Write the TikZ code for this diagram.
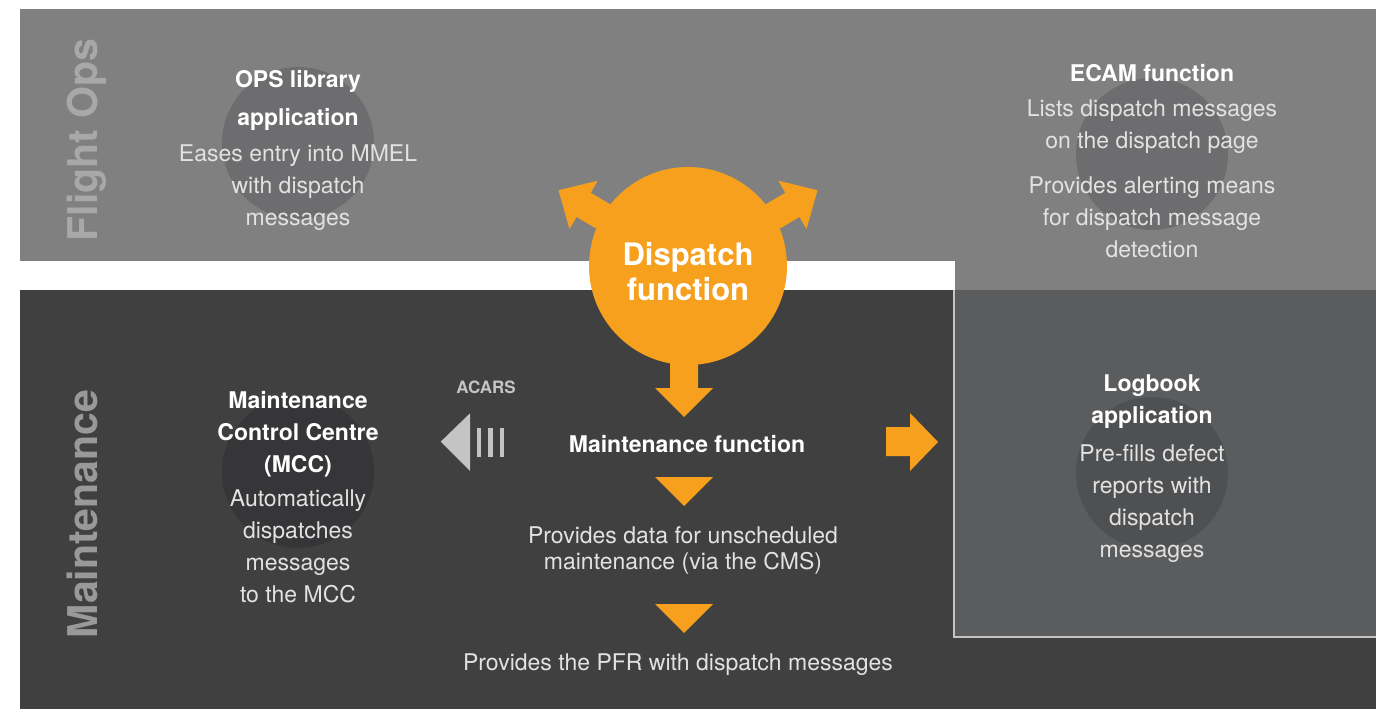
\documentclass[tikz,border=0pt]{standalone}
\usepackage{fontspec}
\setmainfont{TeX Gyre Heros}
\definecolor{topgray}{HTML}{808080}
\definecolor{darkgray}{HTML}{404040}
\definecolor{logbox}{HTML}{5B5C5E}
\definecolor{logborder}{HTML}{C4C4C4}
\definecolor{orange}{HTML}{F6A01E}
\definecolor{bodytxt}{HTML}{E2E2E2}
\definecolor{acars}{HTML}{C4C4C4}
\definecolor{sidelblA}{HTML}{A8A8A8}
\definecolor{sidelblB}{HTML}{999999}
\definecolor{circA}{HTML}{6D6D6F}
\definecolor{circB}{HTML}{363638}
\definecolor{circC}{HTML}{4F5052}
\begin{document}
\begin{tikzpicture}[x=1pt,y=-1pt,
  bodytext/.style={text=bodytxt, font=\fontsize{23}{32}\selectfont, align=center, inner sep=0pt},
  titletext/.style={text=white, font=\fontsize{23}{32}\selectfont\bfseries, align=center, inner sep=0pt},
  sidelabel/.style={rotate=90, anchor=base, font=\fontsize{41}{41}\selectfont\bfseries, inner sep=0pt},
  orangefill/.style={fill=orange, draw=none},
  faint/.style={draw=none}
]
\useasboundingbox (0,0) rectangle (1389,709);
\fill[white] (0,0) rectangle (1389,709);
% bands
\fill[topgray] (20,9) rectangle (1376,261);
\fill[topgray] (955,255) rectangle (1376,290);
\fill[darkgray] (20,290) rectangle (1376,709);
\fill[logbox] (955,290) rectangle (1376,637);
\draw[logborder, line width=2.5pt] (954.2,290) -- (954.2,637.2) -- (1376,637.2);
% faint circles
\fill[circA] (298,143) circle (76);
\fill[circA] (1152,154) circle (76);
\fill[circB] (298,472) circle (76);
\fill[circC] (1152,473) circle (76);
% side labels
\node[sidelabel, text=sidelblA] (flightops) at (97,140) {Flight Ops};
\node[sidelabel, text=sidelblB] (maint) at (97,514) {Maintenance};
% dispatch arrows
\fill[orangefill] (626.1,213.5) -- (590.7,192.8) -- (597.7,180.7) -- (558.5,190.2) -- (569.5,229.1) -- (576.5,217.0) -- (611.9,237.7) -- cycle;
\fill[orangefill] (749.9,213.5) -- (785.3,192.8) -- (778.3,180.7) -- (817.5,190.2) -- (806.5,229.1) -- (799.5,217.0) -- (764.1,237.7) -- cycle;
\fill[orangefill] (670,340) -- (698,340) -- (698,388) -- (713,388) -- (684,417) -- (655,388) -- (670,388) -- cycle;
\node[circle, fill=orange, minimum size=198pt, inner sep=0pt] (dispatch) at (688,266) {};
\node[text=white, font=\fontsize{31}{35}\selectfont\bfseries, align=center, inner sep=0pt] (dispatchtxt) at (688,272) {Dispatch\\function};
% OPS library
\node[titletext, font=\fontsize{23}{38}\selectfont\bfseries] (opstitle) at (298,100) {OPS library\\application};
\node[bodytext] (opsbody) at (298,188) {Eases entry into MMEL\\with dispatch\\messages};
% ECAM
\node[titletext] (ecamtitle) at (1152,73) {ECAM function};
\node[bodytext] (ecambody1) at (1152,127) {Lists dispatch messages\\on the dispatch page};
\node[bodytext] (ecambody2) at (1152,217) {Provides alerting means\\for dispatch message\\detection};
% MCC
\node[titletext] (mcctitle) at (298,434) {Maintenance\\Control Centre\\(MCC)};
\node[bodytext] (mccbody) at (298,546) {Automatically\\dispatches\\messages\\to the MCC};
% Logbook
\node[titletext] (logtitle) at (1152,402) {Logbook\\application};
\node[bodytext] (logbody) at (1152,504) {Pre-fills defect\\reports with\\dispatch\\messages};
% ACARS
\node[text=acars, font=\fontsize{17}{17}\selectfont\bfseries, inner sep=0pt] (acarstxt) at (486,387) {ACARS};
\fill[acars] (440.7,441.7) -- (470,413.3) -- (470,471) -- cycle;
\fill[acars] (476.7,428.3) rectangle (481,456.7);
\fill[acars] (488.3,428.3) rectangle (492.7,456.7);
\fill[acars] (499.5,428.3) rectangle (504,456.7);
% maintenance function
\node[titletext] (mainfunc) at (687,444) {Maintenance function};
\fill[orangefill] (886,427) -- (910,427) -- (910,413) -- (938,442) -- (910,471) -- (910,456) -- (886,456) -- cycle;
\fill[orangefill] (655,477) -- (713,477) -- (684,506) -- cycle;
\node[bodytext, font=\fontsize{23}{26}\selectfont] (cms) at (683,551) {Provides data for unscheduled\\maintenance (via the CMS)};
\fill[orangefill] (655,604) -- (713,604) -- (684,633) -- cycle;
\node[bodytext] (pfr) at (678,665) {Provides the PFR with dispatch messages};
\end{tikzpicture}
\end{document}
